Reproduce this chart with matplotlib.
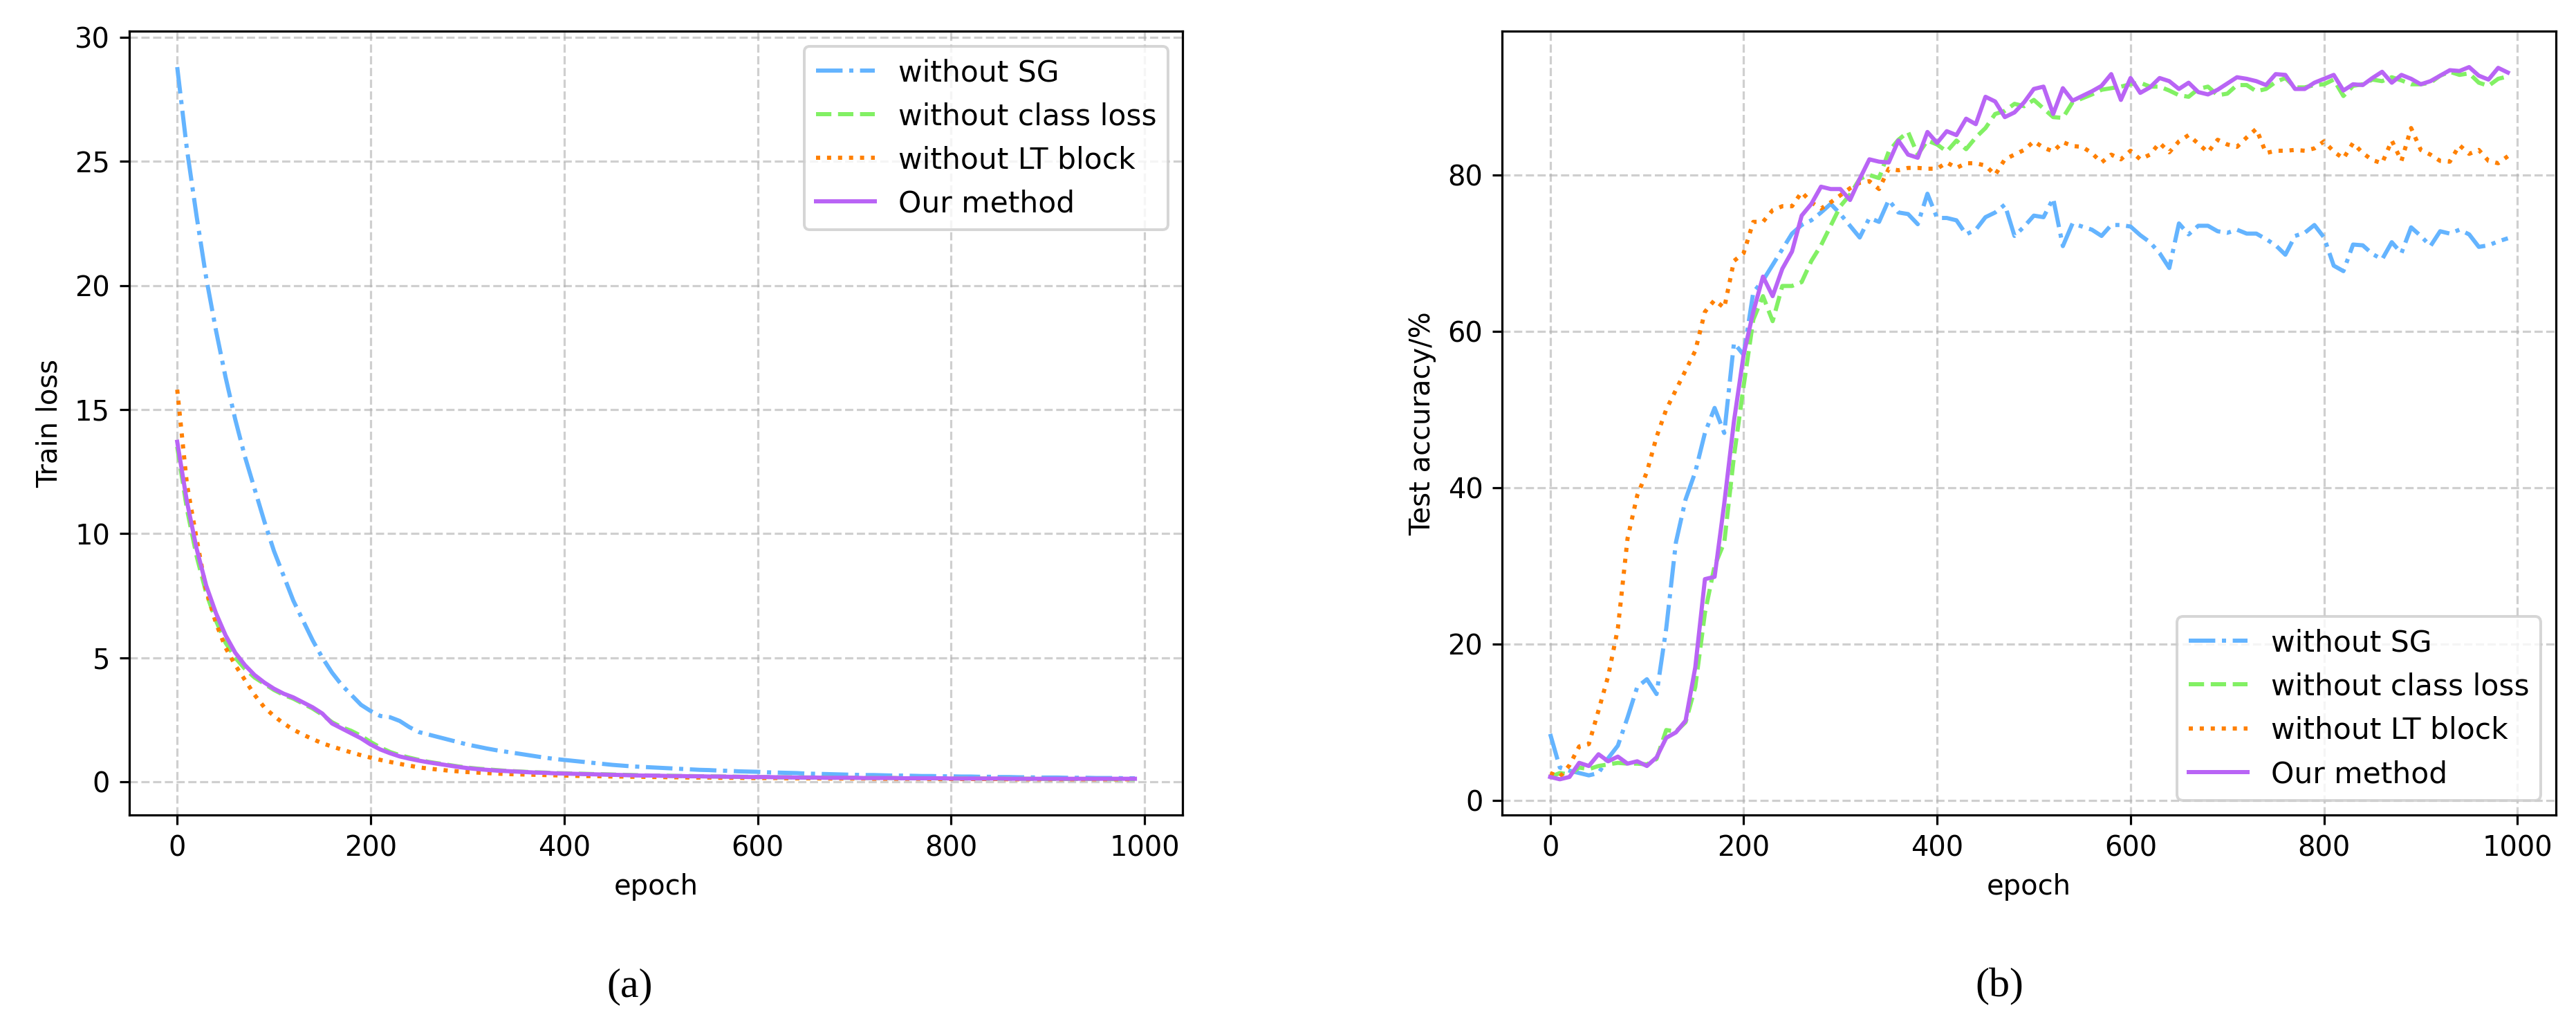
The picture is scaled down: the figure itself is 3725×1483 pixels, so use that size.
"""Ablation curves: train loss (a) and test accuracy (b) over epochs."""
import matplotlib
matplotlib.use("Agg")
import matplotlib.pyplot as plt

epochs = list(range(0, 1000, 10))

labels = ["without SG", "without class loss", "without LT block", "Our method"]

# ---- train loss, one value every 10 epochs ----
loss_no_sg = [
    28.8, 25.5, 22.8, 20.3, 18.2, 16.3, 14.6, 13.1, 11.8, 10.5,
    9.3, 8.3, 7.3, 6.5, 5.7, 5.0, 4.4, 3.9, 3.5, 3.1,
    2.85, 2.65, 2.6, 2.45, 2.2, 2.0, 1.9, 1.8, 1.7, 1.6,
    1.5, 1.42, 1.34, 1.27, 1.21, 1.15, 1.09, 1.03, 0.97, 0.92,
    0.88, 0.84, 0.8, 0.76, 0.72, 0.68, 0.65, 0.62, 0.6, 0.58,
    0.56, 0.54, 0.52, 0.5, 0.48, 0.47, 0.45, 0.44, 0.42, 0.41,
    0.4, 0.38, 0.37, 0.36, 0.35, 0.33, 0.32, 0.31, 0.3, 0.29,
    0.28, 0.27, 0.27, 0.26, 0.25, 0.25, 0.24, 0.23, 0.23, 0.22,
    0.22, 0.21, 0.21, 0.2, 0.2, 0.19, 0.19, 0.18, 0.18, 0.17,
    0.17, 0.17, 0.16, 0.16, 0.16, 0.15, 0.15, 0.15, 0.14, 0.14,
]
loss_no_cls = [
    13.5, 11.0, 9.1, 7.6, 6.5, 5.6, 5.0, 4.55, 4.2, 3.95,
    3.7, 3.5, 3.35, 3.15, 2.95, 2.7, 2.4, 2.2, 2.05, 1.85,
    1.6, 1.38, 1.2, 1.07, 0.97, 0.88, 0.8, 0.74, 0.68, 0.62,
    0.57, 0.53, 0.5, 0.47, 0.44, 0.42, 0.4, 0.38, 0.37, 0.35,
    0.34, 0.33, 0.32, 0.31, 0.3, 0.29, 0.28, 0.27, 0.26, 0.25,
    0.25, 0.24, 0.23, 0.23, 0.22, 0.22, 0.21, 0.21, 0.2, 0.2,
    0.19, 0.19, 0.18, 0.18, 0.18, 0.17, 0.17, 0.17, 0.16, 0.16,
    0.16, 0.15, 0.15, 0.15, 0.15, 0.14, 0.14, 0.14, 0.14, 0.13,
    0.13, 0.13, 0.13, 0.13, 0.12, 0.12, 0.12, 0.12, 0.12, 0.12,
    0.11, 0.11, 0.11, 0.11, 0.11, 0.11, 0.11, 0.1, 0.1, 0.1,
]
loss_no_lt = [
    15.8, 12.0, 9.8, 7.7, 6.4, 5.4, 4.7, 4.1, 3.5, 3.0,
    2.65, 2.35, 2.1, 1.9, 1.72, 1.55, 1.42, 1.3, 1.18, 1.07,
    0.97, 0.88, 0.8, 0.72, 0.65, 0.58, 0.53, 0.49, 0.45, 0.42,
    0.39, 0.37, 0.35, 0.33, 0.31, 0.3, 0.29, 0.28, 0.27, 0.26,
    0.25, 0.24, 0.23, 0.23, 0.22, 0.21, 0.21, 0.2, 0.2, 0.19,
    0.19, 0.18, 0.18, 0.17, 0.17, 0.17, 0.16, 0.16, 0.16, 0.15,
    0.15, 0.15, 0.15, 0.14, 0.14, 0.14, 0.14, 0.13, 0.13, 0.13,
    0.13, 0.13, 0.12, 0.12, 0.12, 0.12, 0.12, 0.12, 0.11, 0.11,
    0.11, 0.11, 0.11, 0.11, 0.11, 0.11, 0.1, 0.1, 0.1, 0.1,
    0.1, 0.1, 0.1, 0.1, 0.1, 0.1, 0.1, 0.1, 0.1, 0.1,
]
loss_ours = [
    13.7, 11.3, 9.4, 7.9, 6.8, 5.9, 5.2, 4.7, 4.3, 4.0,
    3.75, 3.55, 3.4, 3.2, 3.0, 2.75, 2.35, 2.15, 1.95, 1.75,
    1.5, 1.3, 1.15, 1.02, 0.93, 0.85, 0.78, 0.72, 0.66, 0.6,
    0.55, 0.51, 0.48, 0.45, 0.43, 0.41, 0.39, 0.37, 0.36, 0.34,
    0.33, 0.32, 0.31, 0.3, 0.29, 0.28, 0.27, 0.26, 0.25, 0.25,
    0.24, 0.23, 0.23, 0.22, 0.22, 0.21, 0.21, 0.2, 0.2, 0.19,
    0.19, 0.19, 0.18, 0.18, 0.17, 0.17, 0.17, 0.16, 0.16, 0.16,
    0.16, 0.15, 0.15, 0.15, 0.15, 0.14, 0.14, 0.14, 0.14, 0.14,
    0.13, 0.13, 0.13, 0.13, 0.13, 0.13, 0.12, 0.12, 0.12, 0.12,
    0.12, 0.12, 0.12, 0.12, 0.12, 0.12, 0.12, 0.12, 0.12, 0.12,
]

# ---- test accuracy (%), one value every 10 epochs ----
acc_no_sg = [
    8.5, 4.2, 3.8, 3.5, 3.2, 3.5, 5.4, 7.0, 10.6, 14.5,
    15.5, 13.6, 22.0, 33.0, 38.5, 42.0, 47.0, 50.2, 47.0, 58.5,
    57.0, 65.0, 66.5, 68.5, 70.5, 72.5, 73.6, 74.2, 75.2, 76.3,
    75.0, 73.5, 72.0, 74.5, 74.0, 76.8, 75.2, 75.0, 73.7, 77.6,
    74.5, 74.5, 74.2, 72.4, 73.0, 74.6, 75.2, 76.2, 72.2, 73.4,
    74.8, 74.6, 77.0, 70.9, 73.8, 73.4, 73.0, 72.2, 73.6, 73.6,
    73.4, 72.3, 71.4, 70.0, 68.1, 73.8, 72.4, 73.5, 73.5, 72.8,
    72.6, 73.0, 72.5, 72.5, 71.8, 71.0, 69.8, 72.2, 72.6, 73.6,
    72.0, 68.4, 67.7, 71.1, 71.0, 69.9, 69.2, 71.4, 70.0, 73.3,
    72.2, 70.9, 72.8, 72.5, 73.0, 72.4, 70.8, 71.0, 71.5, 71.9,
]
acc_no_cls = [
    3.0, 3.5, 3.3, 4.2, 4.0, 4.4, 4.6, 4.8, 4.7, 4.7,
    4.6, 5.3, 9.0, 8.8, 10.0, 14.5, 24.0, 30.0, 33.0, 44.0,
    53.0, 61.5, 64.5, 61.3, 65.8, 65.8, 66.3, 69.0, 71.0, 73.5,
    76.0, 77.5, 79.5, 80.0, 79.6, 83.0, 84.5, 85.5, 82.6, 84.4,
    83.9, 83.0, 84.4, 83.3, 84.8, 86.0, 87.8, 88.2, 89.1, 88.8,
    89.6, 88.5, 87.4, 87.3, 89.3, 89.8, 90.3, 90.9, 91.1, 91.3,
    91.6, 91.8, 91.3, 91.3, 90.8, 90.2, 90.0, 91.0, 91.3, 90.2,
    90.4, 91.5, 91.5, 90.7, 91.0, 91.9, 92.4, 91.2, 91.2, 91.5,
    91.6, 92.2, 90.1, 91.4, 91.6, 92.2, 92.0, 92.5, 92.1, 91.6,
    91.6, 91.8, 92.7, 93.2, 92.8, 93.0, 91.8, 91.4, 92.3, 92.6,
]
acc_no_lt = [
    3.5, 3.0, 4.5, 6.9, 7.2, 11.5, 15.9, 22.0, 33.5, 39.0,
    42.0, 46.5, 50.0, 52.5, 55.0, 57.5, 62.5, 64.0, 63.0, 69.0,
    70.0, 74.0, 74.0, 75.5, 76.0, 76.0, 77.8, 76.5, 75.7, 76.5,
    77.4, 78.3, 79.0, 79.2, 78.2, 80.8, 80.6, 80.9, 80.9, 80.8,
    80.8, 81.6, 80.9, 81.5, 81.5, 81.2, 80.0, 82.0, 82.6, 83.2,
    84.3, 83.5, 83.0, 84.2, 83.7, 83.6, 82.8, 81.6, 82.6, 82.0,
    83.1, 82.0, 82.6, 84.1, 82.9, 84.3, 85.1, 84.0, 82.9, 84.5,
    83.9, 83.6, 84.8, 85.9, 82.8, 83.1, 83.1, 83.2, 83.1, 83.4,
    84.3, 83.0, 82.1, 84.1, 82.8, 81.9, 81.5, 84.4, 81.8, 86.0,
    83.2, 82.6, 81.8, 81.7, 83.8, 82.7, 83.2, 81.8, 81.5, 82.4,
]
acc_ours = [
    3.0, 2.7, 3.0, 4.8, 4.4, 5.9, 5.0, 5.6, 4.7, 5.0,
    4.4, 5.5, 8.0, 8.7, 10.2, 17.0, 28.3, 28.6, 38.0, 48.5,
    57.0, 62.5, 67.0, 64.5, 68.0, 70.2, 74.8, 76.3, 78.5, 78.2,
    78.2, 76.8, 79.5, 82.0, 81.7, 81.6, 84.4, 82.6, 82.2, 85.5,
    84.1, 85.6, 85.1, 87.2, 86.5, 90.0, 89.4, 87.4, 88.0, 89.3,
    91.0, 91.3, 87.8, 91.1, 89.5, 90.1, 90.7, 91.4, 92.9, 89.6,
    92.4, 90.5, 91.2, 92.4, 92.0, 91.0, 91.8, 90.6, 90.3, 90.9,
    91.7, 92.5, 92.3, 92.0, 91.5, 92.9, 92.8, 91.0, 91.0, 91.8,
    92.3, 92.8, 90.8, 91.6, 91.5, 92.4, 93.2, 91.8, 92.8, 92.3,
    91.6, 92.0, 92.7, 93.4, 93.3, 93.8, 92.7, 92.2, 93.7, 93.1,
]

colors = ["#64b4ff", "#82f064", "#ff8000", "#b964f5"]
styles = ["-.", "--", ":", "-"]

DPI = 288
fig = plt.figure(figsize=(3725.5 / DPI, 1483.5 / DPI), dpi=DPI)
ax_loss = fig.add_axes([0.0502, 0.2057, 0.4089, 0.7633])
ax_acc = fig.add_axes([0.5831, 0.2057, 0.4089, 0.7633])


def draw(ax, series, ylabel, legend_loc):
    for ys, lab, c, ls in zip(series, labels, colors, styles):
        ax.plot(epochs, ys, ls, color=c, label=lab, linewidth=1.5)
    ax.grid(True, linestyle="--", color="#b0b0b0", alpha=0.6)
    ax.set_xlabel("epoch")
    ax.set_ylabel(ylabel)
    ax.set_xticks([0, 200, 400, 600, 800, 1000])
    ax.legend(loc=legend_loc, fontsize=10.6)


draw(ax_loss, [loss_no_sg, loss_no_cls, loss_no_lt, loss_ours], "Train loss", "upper right")
draw(ax_acc, [acc_no_sg, acc_no_cls, acc_no_lt, acc_ours], "Test accuracy/%", "lower right")

# sub-figure captions
fig.text(0.2443, 0.0384, "(a)", ha="center", va="center",
         family="Liberation Serif", fontsize=15)
fig.text(0.7761, 0.0384, "(b)", ha="center", va="center",
         family="Liberation Serif", fontsize=15)

fig.savefig("out.png", dpi=DPI)
